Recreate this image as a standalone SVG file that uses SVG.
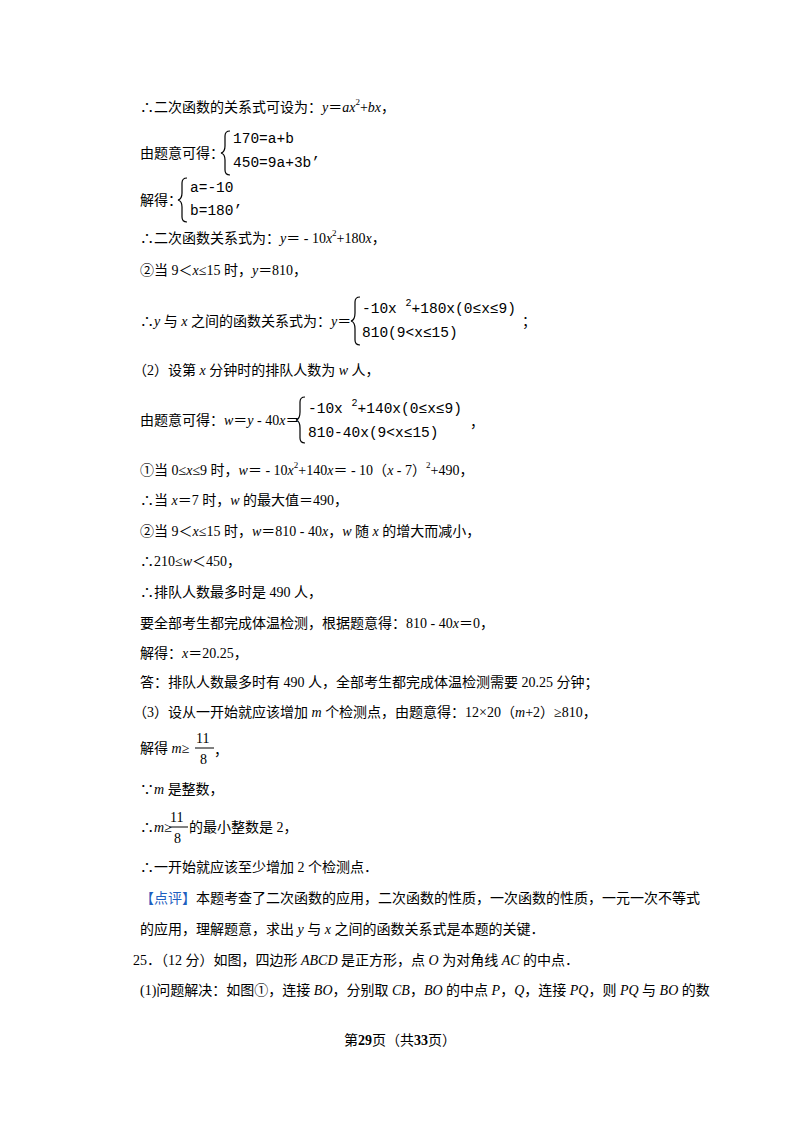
<svg xmlns="http://www.w3.org/2000/svg" width="800" height="1132" viewBox="0 0 800 1132">
<style>
text{font-family:"Liberation Serif","Noto Sans CJK SC",serif;font-size:14px;fill:#000;dominant-baseline:central}
.m{font-family:"Liberation Mono","Noto Sans CJK SC",monospace;font-size:14.5px}
.i{font-style:italic}
.b{fill:none;stroke:#000;stroke-width:1.2}
.blue{fill:#1f5fbf}
</style>
<rect width="800" height="1132" fill="#fff"/>
<g id="body">
<text x="140" y="107">∴二次函数的关系式可设为：<tspan class="i">y</tspan>＝<tspan class="i">ax</tspan><tspan font-size="9" dy="-5">2</tspan><tspan dy="5">+</tspan><tspan class="i">bx</tspan>，</text>
<text x="140" y="153">由题意可得：</text>
<path class="b" d="M230,131 q-5,0 -5,5 v10 q0,6 -4,7 q4,1 4,7 v10 q0,5 5,5"/>
<text class="m" x="233" y="139">170=a+b</text>
<text class="m" x="233" y="163">450=9a+3b’</text>
<text x="140" y="200">解得：</text>
<path class="b" d="M187,178 q-5,0 -5,5 v10 q0,6 -4,7 q4,1 4,7 v10 q0,5 5,5"/>
<text class="m" x="190" y="188">a=-10</text>
<text class="m" x="190" y="211">b=180’</text>
<text x="140" y="238">∴二次函数关系式为：<tspan class="i">y</tspan>＝ - 10<tspan class="i">x</tspan><tspan font-size="9" dy="-5">2</tspan><tspan dy="5">+180</tspan><tspan class="i">x</tspan>，</text>
<text x="140" y="270">②当 9＜<tspan class="i">x</tspan>≤15 时，<tspan class="i">y</tspan>＝810，</text>
<text x="140" y="321">∴<tspan class="i">y</tspan> 与 <tspan class="i">x</tspan> 之间的函数关系式为：<tspan class="i">y</tspan>＝</text>
<path class="b" d="M360,297 q-5,0 -5,5 v11 q0,7 -4,8 q4,1 4,8 v11 q0,5 5,5"/>
<text class="m" x="362" y="309">-10x <tspan font-size="10" dy="-6">2</tspan><tspan dy="6">+180x(0≤x≤9)</tspan></text>
<text class="m" x="362" y="333">810(9&lt;x≤15)</text>
<text x="522" y="321">；</text>
<text x="133" y="370">（2）设第 <tspan class="i">x</tspan> 分钟时的排队人数为 <tspan class="i">w</tspan> 人，</text>
<text x="140" y="420">由题意可得：<tspan class="i">w</tspan>＝<tspan class="i">y</tspan> - 40<tspan class="i">x</tspan>＝</text>
<path class="b" d="M305,397 q-5,0 -5,5 v10 q0,7 -4,8 q4,1 4,8 v10 q0,5 5,5"/>
<text class="m" x="308" y="409">-10x <tspan font-size="10" dy="-6">2</tspan><tspan dy="6">+140x(0≤x≤9)</tspan></text>
<text class="m" x="308" y="433">810-40x(9&lt;x≤15)</text>
<text x="470" y="422">，</text>
<text x="140" y="470">①当 0≤<tspan class="i">x</tspan>≤9 时，<tspan class="i">w</tspan>＝ - 10<tspan class="i">x</tspan><tspan font-size="9" dy="-5">2</tspan><tspan dy="5">+140</tspan><tspan class="i">x</tspan>＝ - 10（<tspan class="i">x</tspan> - 7）<tspan font-size="9" dy="-5">2</tspan><tspan dy="5">+490，</tspan></text>
<text x="140" y="500">∴当 <tspan class="i">x</tspan>＝7 时，<tspan class="i">w</tspan> 的最大值＝490，</text>
<text x="140" y="531">②当 9＜<tspan class="i">x</tspan>≤15 时，<tspan class="i">w</tspan>＝810 - 40<tspan class="i">x</tspan>，<tspan class="i">w</tspan> 随 <tspan class="i">x</tspan> 的增大而减小，</text>
<text x="140" y="561">∴210≤<tspan class="i">w</tspan>＜450，</text>
<text x="140" y="592">∴排队人数最多时是 490 人，</text>
<text x="140" y="623">要全部考生都完成体温检测，根据题意得：810 - 40<tspan class="i">x</tspan>＝0，</text>
<text x="140" y="653">解得：<tspan class="i">x</tspan>＝20.25，</text>
<text x="140" y="682">答：排队人数最多时有 490 人，全部考生都完成体温检测需要 20.25 分钟；</text>
<text x="133" y="712">（3）设从一开始就应该增加 <tspan class="i">m</tspan> 个检测点，由题意得：12×20（<tspan class="i">m</tspan>+2）≥810，</text>
<text x="140" y="748">解得 <tspan class="i">m</tspan>≥</text>
<text x="196" y="738" font-family="Liberation Sans" font-size="16">11</text>
<line x1="195" y1="748" x2="214" y2="748" stroke="#000" stroke-width="1"/>
<text x="200" y="759" font-family="Liberation Sans" font-size="16">8</text>
<text x="214" y="750">，</text>
<text x="140" y="789">∵<tspan class="i">m</tspan> 是整数，</text>
<text x="140" y="827">∴<tspan class="i">m</tspan>≥</text>
<text x="170" y="817" font-family="Liberation Sans" font-size="16">11</text>
<line x1="169" y1="827" x2="188" y2="827" stroke="#000" stroke-width="1"/>
<text x="174" y="838" font-family="Liberation Sans" font-size="16">8</text>
<text x="189" y="827">的最小整数是 2，</text>
<text x="140" y="867">∴一开始就应该至少增加 2 个检测点．</text>
<text x="140" y="898"><tspan class="blue">【点评】</tspan>本题考查了二次函数的应用，二次函数的性质，一次函数的性质，一元一次不等式</text>
<text x="140" y="929">的应用，理解题意，求出 <tspan class="i">y</tspan> 与 <tspan class="i">x</tspan> 之间的函数关系式是本题的关键．</text>
<text x="133" y="960">25．（12 分）如图，四边形 <tspan class="i">ABCD</tspan> 是正方形，点 <tspan class="i">O</tspan> 为对角线 <tspan class="i">AC</tspan> 的中点．</text>
<text x="140" y="990">(1)问题解决：如图①，连接 <tspan class="i">BO</tspan>，分别取 <tspan class="i">CB</tspan>，<tspan class="i">BO</tspan> 的中点 <tspan class="i">P</tspan>，<tspan class="i">Q</tspan>，连接 <tspan class="i">PQ</tspan>，则 <tspan class="i">PQ</tspan> 与 <tspan class="i">BO</tspan> 的数</text>
<text x="400" y="1040" text-anchor="middle" font-size="12">第<tspan font-weight="bold" font-size="14">29</tspan>页（共<tspan font-weight="bold" font-size="14">33</tspan>页）</text>
</g>
</svg>
